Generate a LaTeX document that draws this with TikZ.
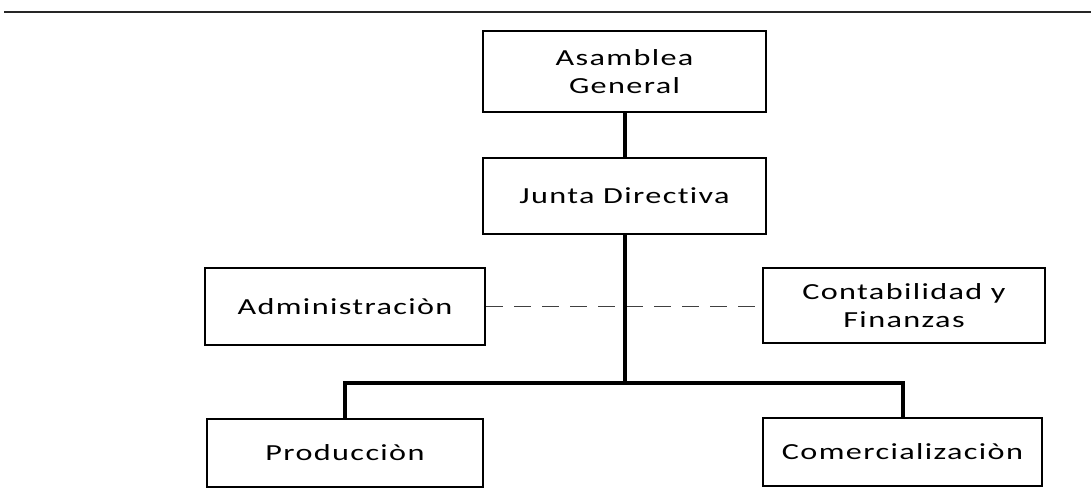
\documentclass[tikz,border=0pt]{standalone}
\usepackage{fontspec}
\newfontfamily\boxfont[FakeStretch=1.4,LetterSpace=6,Ligatures=NoCommon]{Carlito}
\begin{document}
\begin{tikzpicture}[x=1pt,y=-1pt,
  orgbox/.style={draw=black, line width=2pt, rectangle, align=center, inner sep=0pt,
     font=\boxfont\fontsize{23}{28}\selectfont},
  conn/.style={draw=black, line width=4pt},
  dashconn/.style={draw=black!75, line width=1.3pt, dash pattern=on 17pt off 11pt},
  rule/.style={draw=black!85, line width=2pt}]
\useasboundingbox (0,0) rectangle (1091,499);
\coordinate (ruleL) at (4,12);
\coordinate (ruleR) at (1091,12);
\draw[rule] (ruleL) -- (ruleR);

\node[orgbox, minimum width=283pt, minimum height=81pt] (asam) at (624.5,71.5) {Asamblea\\General};
\node[orgbox, minimum width=283pt, minimum height=76pt] (junta) at (624.5,196) {Junta Directiva};
\node[orgbox, minimum width=280pt, minimum height=77pt] (admin) at (345,306.5) {Administraciòn};
\node[orgbox, minimum width=282pt, minimum height=75pt] (conta) at (904,305.5) {Contabilidad y\\Finanzas};
\node[orgbox, minimum width=276pt, minimum height=68pt] (prod) at (345,453) {Producciòn};
\node[orgbox, minimum width=279pt, minimum height=68pt] (comer) at (902.5,452) {Comercializaciòn};

\coordinate (split) at (624.5,383);
\draw[dashconn] (admin.east) -- (admin.east -| conta.west);
\draw[conn] (asam.south) -- (junta.north);
\draw[conn] (junta.south) -- (split);
\draw[conn] (prod.north) |- (split) -| (comer.north);
\end{tikzpicture}
\end{document}
